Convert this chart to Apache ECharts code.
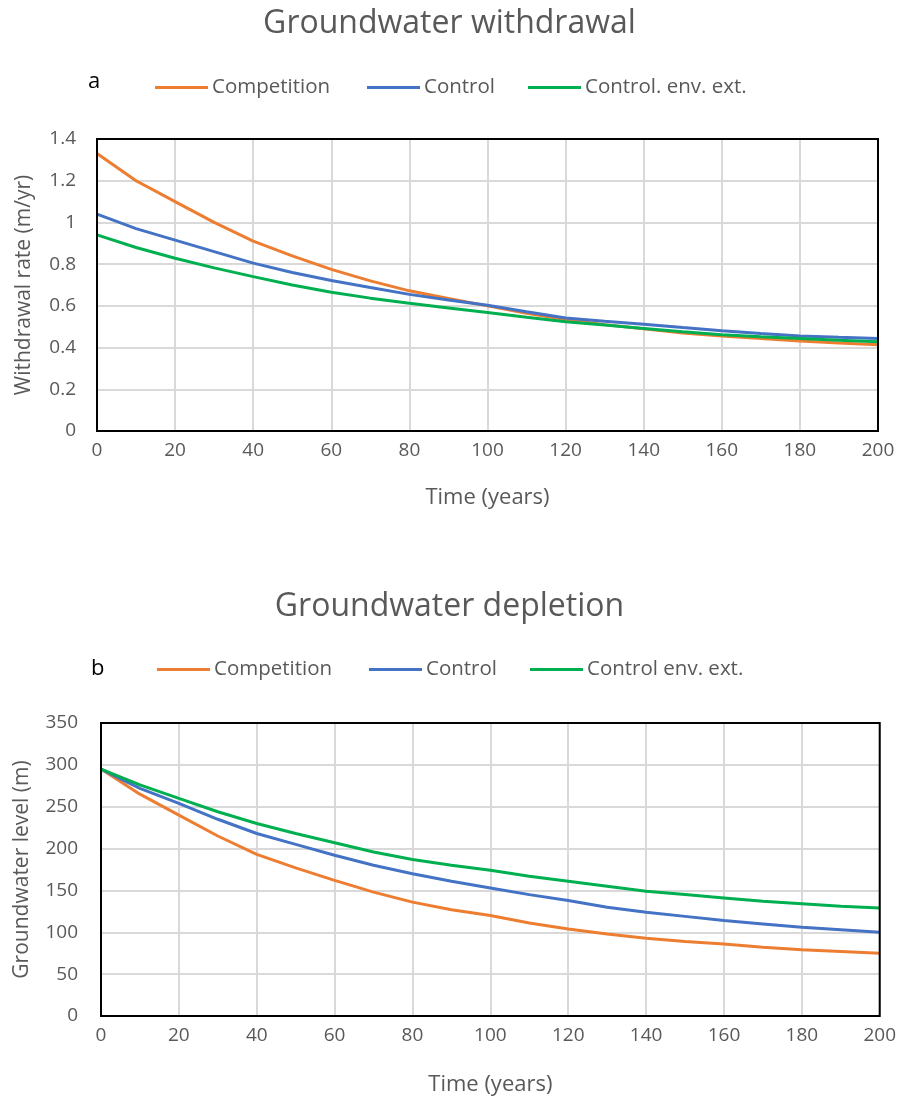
<!DOCTYPE html>
<html><head><meta charset="utf-8">
<script src="https://cdn.jsdelivr.net/npm/echarts@6/dist/echarts.min.js"></script>
<style>html,body{margin:0;padding:0;background:#fff}#c{width:899px;height:1101px}</style>
</head><body><div id="c"></div>
<script>
const years = [0,10,20,30,40,50,60,70,80,90,100,110,120,130,140,150,160,170,180,190,200];
// Panel a: withdrawal rate (m/yr)
const wCompetition = [1.33,1.20,1.10,1.00,0.91,0.84,0.775,0.72,0.672,0.635,0.60,0.565,0.535,0.51,0.49,0.47,0.455,0.443,0.432,0.422,0.413];
const wControl     = [1.04,0.97,0.915,0.86,0.805,0.76,0.722,0.688,0.655,0.628,0.603,0.572,0.542,0.526,0.512,0.496,0.481,0.467,0.455,0.449,0.444];
const wEnvExt      = [0.94,0.88,0.828,0.782,0.74,0.70,0.665,0.637,0.612,0.59,0.568,0.545,0.524,0.508,0.492,0.476,0.461,0.452,0.444,0.435,0.428];
// Panel b: groundwater level (m)
const dCompetition = [295,265,240,215,193,177,162,148,136,127,120,111,104,98,93,89,86,82,79,77,75];
const dControl     = [295,272,254,235,218,205,192,180,170,161,153,145,138,130,124,119,114,110,106,103,100];
const dEnvExt      = [295,276,260,244,230,218,207,196,187,180,174,167,161,155,149,145,141,137,134,131,129];
const namesA = ['Competition','Control','Control. env. ext.'];
const namesB = ['Competition','Control','Control env. ext.'];
const colors = ['#ED7D31','#4472C4','#00B050'];

const FONT = 'Open Sans';
const grey = '#595959';
const pair = (ys) => years.map((x,i)=>[x,ys[i]]);

function mkSeries(name, data, color, idx){
  return {name, type:'line', xAxisIndex:idx, yAxisIndex:idx, data:pair(data), symbol:'none', z:2,
    lineStyle:{color, width:3}, itemStyle:{color}, animation:false};
}
function mkLegend(name, left, top){
  return {data:[name], left, top, icon:'rect', itemWidth:53, itemHeight:3, itemGap:0,
    textStyle:{fontFamily:FONT, fontSize:20.5, color:grey, padding:[0,0,0,-1]}};
}
const gridStyle = {show:true, lineStyle:{color:'#d9d9d9', width:2}};
function xAx(gridIndex, gap){
  return {type:'value', gridIndex, min:0, max:200, interval:20,
    axisLine:{show:false}, axisTick:{show:false}, splitLine:gridStyle,
    axisLabel:{fontFamily:FONT, fontSize:19, color:grey, margin:10},
    name:'Time (years)', nameLocation:'middle', nameGap:gap,
    nameTextStyle:{fontFamily:FONT, fontSize:22, color:grey}};
}
const chart = echarts.init(document.getElementById('c'));
chart.setOption({
  backgroundColor:'#fff',
  animation:false,
  title:[
    {text:'Groundwater withdrawal', left:'center', top:3, textStyle:{fontFamily:FONT, fontSize:32, fontWeight:'normal', color:grey}},
    {text:'Groundwater depletion', left:'center', top:586, textStyle:{fontFamily:FONT, fontSize:32, fontWeight:'normal', color:grey}},
    {text:'a', left:83, top:66, textStyle:{fontFamily:FONT, fontSize:22, fontWeight:'normal', color:'#000'}},
    {text:'b', left:86, top:653, textStyle:{fontFamily:FONT, fontSize:22, fontWeight:'normal', color:'#000'}}
  ],
  legend:[
    mkLegend(namesA[0],150,72), mkLegend(namesA[1],362,72), mkLegend(namesA[2],523,72),
    mkLegend(namesB[0],152,654), mkLegend(namesB[1],364,654), mkLegend(namesB[2],525,654)
  ],
  grid:[
    {left:97, top:139, width:781, height:292, show:true, z:5, borderColor:'#000', borderWidth:2, backgroundColor:'transparent'},
    {left:101, top:723, width:781, height:293, show:true, z:5, borderColor:'#000', borderWidth:2, backgroundColor:'transparent'}
  ],
  xAxis:[xAx(0,56), xAx(1,58)],
  yAxis:[
    {type:'value', gridIndex:0, min:0, max:1.4, interval:0.2,
     axisLine:{show:false}, axisTick:{show:false}, splitLine:gridStyle,
     axisLabel:{fontFamily:FONT, fontSize:19, color:grey, margin:21, formatter:(v)=>String(Math.round(v*10)/10)},
     name:'Withdrawal rate (m/yr)', nameLocation:'middle', nameGap:62,
     nameTextStyle:{fontFamily:FONT, fontSize:21, color:grey}},
    {type:'value', gridIndex:1, min:0, max:350, interval:50,
     axisLine:{show:false}, axisTick:{show:false}, splitLine:gridStyle,
     axisLabel:{fontFamily:FONT, fontSize:19, color:grey, margin:23},
     name:'Groundwater level (m)', nameLocation:'middle', nameGap:68,
     nameTextStyle:{fontFamily:FONT, fontSize:21, color:grey}}
  ],
  series:[
    mkSeries(namesA[0], wCompetition, colors[0], 0),
    mkSeries(namesA[1], wControl, colors[1], 0),
    mkSeries(namesA[2], wEnvExt, colors[2], 0),
    mkSeries(namesB[0], dCompetition, colors[0], 1),
    mkSeries(namesB[1], dControl, colors[1], 1),
    mkSeries(namesB[2], dEnvExt, colors[2], 1)
  ]
});
</script></body></html>
